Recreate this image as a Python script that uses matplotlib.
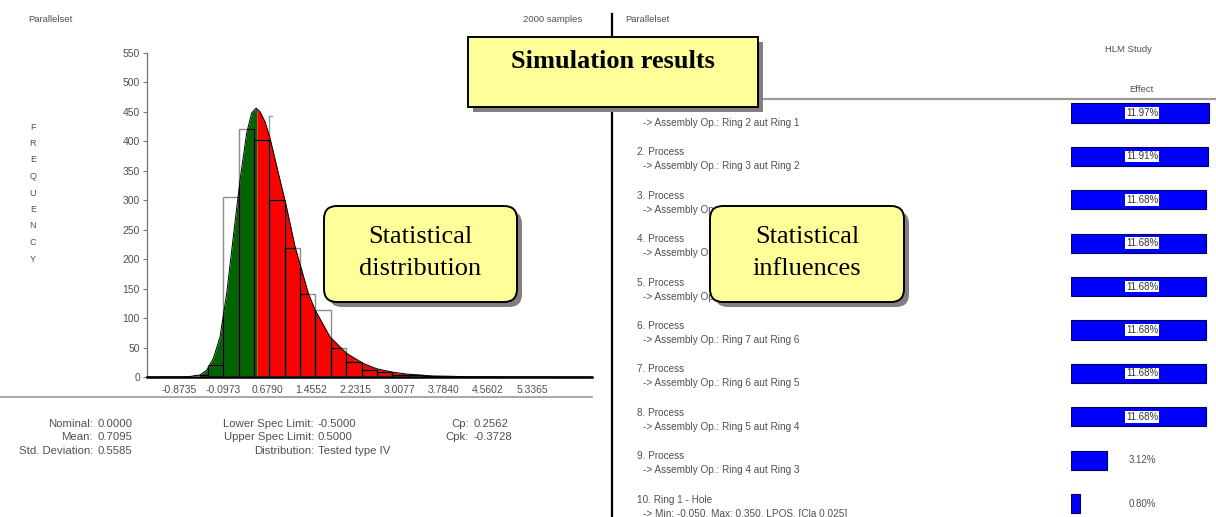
import numpy as np
import matplotlib
matplotlib.use("Agg")
import matplotlib.pyplot as plt
from matplotlib.patches import FancyBboxPatch, Polygon
import matplotlib.transforms as mtrans

W, H = 1216, 517

# ---------------- data ----------------
curve_x = [-1.43, -0.80, -0.65, -0.50, -0.38, -0.265, -0.148, -0.03, 0.086, 0.204,
           0.321, 0.409, 0.485, 0.50, 0.555, 0.643, 0.731, 0.877, 1.012, 1.171,
           1.404, 1.522, 1.786, 2.079, 2.371, 2.606, 2.870, 3.134, 3.601, 4.2, 5.0, 6.39]
curve_y = [0, 0.3, 1.2, 3.4, 11.9, 31.7, 68, 142, 238, 334,
           414, 448, 456, 455, 450, 433, 405, 346, 292, 221,
           142, 114, 68, 40, 23, 14, 8.5, 5, 1.7, 0.6, 0.2, 0]

bin_left = [-0.63, -0.36, -0.09, 0.18, 0.45, 0.72, 0.99, 1.26, 1.53, 1.80,
            2.07, 2.34, 2.61, 2.88, 3.15, 3.42, 3.69]
bin_count = [4, 20, 305, 420, 402, 300, 218, 140, 114, 49, 26, 12, 9, 4, 3, 1, 1]
bin_width = 0.27

x_ticks = [-0.8735, -0.0973, 0.6790, 1.4552, 2.2315, 3.0077, 3.7840, 4.5602, 5.3365]
x_tick_labels = ["-0.8735", "-0.0973", "0.6790", "1.4552", "2.2315", "3.0077",
                 "3.7840", "4.5602", "5.3365"]
y_ticks = [0, 50, 100, 150, 200, 250, 300, 350, 400, 450, 500, 550]

lsl, usl = -0.5, 0.5
mean_value = 0.7095
mean_marker_top = 443

stat_col1 = [("Nominal:", "0.0000"), ("Mean:", "0.7095"), ("Std. Deviation:", "0.5585")]
stat_col2 = [("Lower Spec Limit:", "-0.5000"), ("Upper Spec Limit:", "0.5000"),
             ("Distribution:", "Tested type IV")]
stat_col3 = [("Cp:", "0.2562"), ("Cpk:", "-0.3728")]

item_titles = ["1. Process", "2. Process", "3. Process", "4. Process", "5. Process",
               "6. Process", "7. Process", "8. Process", "9. Process", "10. Ring 1 - Hole"]
item_details = ["-> Assembly Op.: Ring 2 aut Ring 1", "-> Assembly Op.: Ring 3 aut Ring 2",
                "-> Assembly Op.: Ring 8 aut Ring 7", "-> Assembly Op.: Ring 9 aut Ring 8",
                "-> Assembly Op.: Ring 10 aut Ring 9", "-> Assembly Op.: Ring 7 aut Ring 6",
                "-> Assembly Op.: Ring 6 aut Ring 5", "-> Assembly Op.: Ring 5 aut Ring 4",
                "-> Assembly Op.: Ring 4 aut Ring 3",
                "-> Min: -0.050, Max: 0.350, LPOS, [Cla 0.025]"]
effects = [11.97, 11.91, 11.68, 11.68, 11.68, 11.68, 11.68, 11.68, 3.12, 0.80]
effect_labels = ["11.97%", "11.91%", "11.68%", "11.68%", "11.68%", "11.68%",
                 "11.68%", "11.68%", "3.12%", "0.80%"]

# ---------------- helpers ----------------
def fx(px):
    return px / W

def fy(py):
    return 1 - py / H

SANS = "Liberation Sans"
SERIF = "Liberation Serif"
GRAY_TXT = "#505050"

fig = plt.figure(figsize=(W / 100, H / 100), dpi=100)
fig.patch.set_facecolor("white")

# ---------------- histogram ----------------
ax = fig.add_axes([fx(147), fy(377), (592 - 147) / W, (377 - 52.7) / H])
ax.set_xlim(-1.431, 6.390)
ax.set_ylim(0, 550)
ax.set_facecolor("none")

cx = np.array(curve_x)
cy = np.array(curve_y)

ax.plot([mean_value, mean_value], [0, mean_marker_top], color="#9a9a9a", lw=1, zorder=1)
ax.plot([mean_value, mean_value + 0.06], [mean_marker_top, mean_marker_top],
        color="#9a9a9a", lw=1, zorder=1)

ax.fill_between(cx, cy, where=(cx >= lsl) & (cx <= usl), color="#006400", lw=0, zorder=2)
ax.fill_between(cx, cy, where=(cx >= usl), color="#ff0000", lw=0, zorder=2)

mask = cx >= lsl
verts = [(lsl, 0)] + list(zip(cx[mask], cy[mask])) + [(cx[mask][-1], 0)]
clip_poly = Polygon(verts, closed=True, transform=ax.transData)

ax.bar(bin_left, bin_count, width=bin_width, align="edge", fill=False,
       edgecolor="#8c8c8c", lw=1, zorder=3)
inner = ax.bar(bin_left, bin_count, width=bin_width, align="edge", fill=False,
               edgecolor="black", lw=1, zorder=4)
for p in inner:
    p.set_clip_path(clip_poly)

ax.plot(cx, cy, color="black", lw=0.7, zorder=5)

for s in ["top", "right"]:
    ax.spines[s].set_visible(False)
ax.spines["left"].set_color("#707070")
ax.spines["left"].set_linewidth(0.9)
ax.spines["bottom"].set_color("black")
ax.spines["bottom"].set_linewidth(1.8)
ax.set_xticks(x_ticks)
ax.set_xticklabels(x_tick_labels)
ax.set_yticks(y_ticks)
ax.tick_params(axis="y", length=3, width=0.8, color="#777777", pad=2,
               labelsize=7.5, labelcolor=GRAY_TXT)
ax.tick_params(axis="x", length=0, pad=6, labelsize=7.5, labelcolor=GRAY_TXT)
for t in ax.get_xticklabels() + ax.get_yticklabels():
    t.set_fontfamily(SANS)

# ---------------- right panel bars ----------------
px_per_pct = 138 / 11.97
row0, row_step = 113, 43.4
ax_r = fig.add_axes([fx(1071), fy(row0 + row_step * 9.5), 145.3 / W, row_step * 10 / H])
ax_r.set_xlim(0, 145.3 / px_per_pct)
ax_r.set_ylim(9.5, -0.5)
ax_r.axis("off")
ypos = np.arange(len(effects))
ax_r.barh(ypos, effects, height=0.44, color="#0000ff", edgecolor="#00005a", lw=0.8)

blend = mtrans.blended_transform_factory(fig.transFigure, ax_r.transData)
for i, (v, lab) in enumerate(zip(effects, effect_labels)):
    if v > 6:
        ax_r.text(fx(1142), i, lab, transform=blend, ha="center", va="center",
                  fontsize=7, family=SANS, color="#333333", clip_on=False,
                  bbox=dict(facecolor="white", edgecolor="none", pad=0.6))
    else:
        ax_r.text(fx(1142), i, lab, transform=blend, ha="center", va="center",
                  fontsize=7, family=SANS, color=GRAY_TXT, clip_on=False)

for i, (t1, t2) in enumerate(zip(item_titles, item_details)):
    ax_r.annotate(t1, xy=(fx(637), i), xycoords=blend, xytext=(0, 2.9),
                  textcoords="offset points", ha="left", va="center",
                  fontsize=7.2, family=SANS, color=GRAY_TXT, annotation_clip=False)
    ax_r.annotate(t2, xy=(fx(643), i), xycoords=blend, xytext=(0, -7.2),
                  textcoords="offset points", ha="left", va="center",
                  fontsize=7.2, family=SANS, color=GRAY_TXT, annotation_clip=False)

# ---------------- overlay (pixel coordinates) ----------------
ov = fig.add_axes([0, 0, 1, 1], zorder=10)
ov.set_xlim(0, W)
ov.set_ylim(H, 0)
ov.axis("off")
ov.set_facecolor("none")

# separators (below the callouts)
ov.plot([612, 612], [14, H], color="black", lw=1.6, zorder=1)
ov.plot([0, 592], [397, 397], color="#9a9a9a", lw=1.2, zorder=1)
ov.plot([620, W], [98.5, 98.5], color="#9a9a9a", lw=1.6, zorder=1)

# headers
ov.text(28, 19, "Parallelset", fontsize=6.8, family=SANS, color=GRAY_TXT, va="center")
ov.text(582, 19, "2000 samples", fontsize=6.8, family=SANS, color=GRAY_TXT,
        va="center", ha="right")
ov.text(625, 19, "Parallelset", fontsize=6.8, family=SANS, color=GRAY_TXT, va="center")
ov.text(1128, 50, "HLM Study", fontsize=6.8, family=SANS, color=GRAY_TXT,
        va="center", ha="center")
ov.text(1141, 90, "Effect", fontsize=6.8, family=SANS, color=GRAY_TXT,
        va="center", ha="center")

# FREQUENCY label
for k, ch in enumerate("FREQUENCY"):
    ov.text(33, 127 + 16.5 * k, ch, fontsize=6.5, family=SANS, color=GRAY_TXT,
            ha="center", va="center")

# stats
row_y = [424, 437.5, 451]
STAT_FS = 8.2
for (lab, val), y in zip(stat_col1, row_y):
    ov.text(93, y, lab, fontsize=STAT_FS, family=SANS, color=GRAY_TXT, ha="right", va="center")
    ov.text(97, y, val, fontsize=STAT_FS, family=SANS, color=GRAY_TXT, ha="left", va="center")
for (lab, val), y in zip(stat_col2, row_y):
    ov.text(314, y, lab, fontsize=STAT_FS, family=SANS, color=GRAY_TXT, ha="right", va="center")
    ov.text(318, y, val, fontsize=STAT_FS, family=SANS, color=GRAY_TXT, ha="left", va="center")
for (lab, val), y in zip(stat_col3, row_y):
    ov.text(469, y, lab, fontsize=STAT_FS, family=SANS, color=GRAY_TXT, ha="right", va="center")
    ov.text(473, y, val, fontsize=STAT_FS, family=SANS, color=GRAY_TXT, ha="left", va="center")

# callout boxes
YELLOW = "#ffff99"
SHADOW = "#808080"

def callout(x0, y0, x1, y1, rounded):
    style = "round,pad=0,rounding_size=13" if rounded else "square,pad=0"
    ov.add_patch(FancyBboxPatch((x0 + 5, y0 + 5), x1 - x0, y1 - y0, boxstyle=style,
                                facecolor=SHADOW, edgecolor="none", zorder=5))
    ov.add_patch(FancyBboxPatch((x0, y0), x1 - x0, y1 - y0, boxstyle=style,
                                facecolor=YELLOW, edgecolor="black", lw=1.4, zorder=6))

callout(468, 37, 758, 107, False)
ov.text(613, 62, "Simulation results", fontsize=19, family=SERIF, weight="bold",
        ha="center", va="center", color="black", zorder=7)

callout(324, 206, 517, 302, True)
ov.text(420, 237, "Statistical", fontsize=19, family=SERIF,
        ha="center", va="center", color="black", zorder=7)
ov.text(420, 269, "distribution", fontsize=19, family=SERIF,
        ha="center", va="center", color="black", zorder=7)

callout(710, 206, 904, 302, True)
ov.text(807, 237, "Statistical", fontsize=19, family=SERIF,
        ha="center", va="center", color="black", zorder=7)
ov.text(807, 269, "influences", fontsize=19, family=SERIF,
        ha="center", va="center", color="black", zorder=7)

fig.savefig("out.png", dpi=100)
